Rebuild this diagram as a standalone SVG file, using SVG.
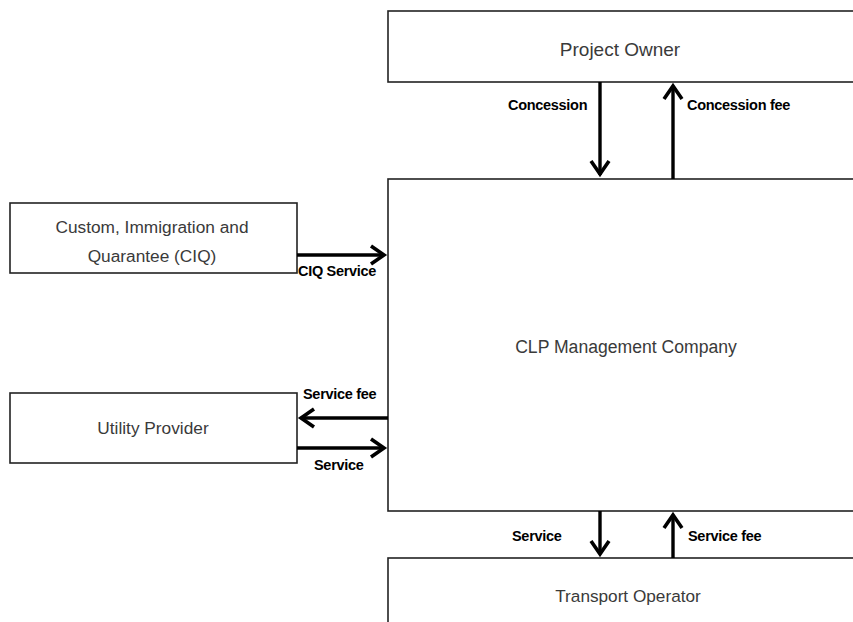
<svg xmlns="http://www.w3.org/2000/svg" width="853" height="622" viewBox="0 0 853 622">
  <style>
    .box { fill: #ffffff; stroke: #222222; stroke-width: 1.6; }
    .title { font-family: "Liberation Sans", Arial, sans-serif; fill: #3a3a3a; text-anchor: middle; }
    .lbl { font-family: "Liberation Sans", Arial, sans-serif; font-weight: bold; fill: #000000; letter-spacing: -0.3px; }
    .flow { stroke: #000000; stroke-width: 3.4; fill: none; }
    .head { stroke: #000000; stroke-width: 3.6; fill: none; stroke-linejoin: miter; }
  </style>
  <rect width="853" height="622" fill="#ffffff"/>

  <g id="project-owner">
    <rect class="box" x="388" y="11" width="480" height="71"/>
    <text class="title" x="620" y="56" font-size="19">Project Owner</text>
  </g>

  <g id="clp-management">
    <rect class="box" x="388" y="179" width="480" height="332"/>
    <text class="title" x="626" y="353" font-size="17.6">CLP Management Company</text>
  </g>

  <g id="transport-operator">
    <rect class="box" x="388" y="558" width="480" height="80"/>
    <text class="title" x="628" y="602" font-size="17.2">Transport Operator</text>
  </g>

  <g id="ciq">
    <rect class="box" x="10" y="203" width="287" height="70"/>
    <text class="title" x="152" y="233" font-size="17.3">Custom, Immigration and</text>
    <text class="title" x="152" y="262" font-size="17.3">Quarantee (CIQ)</text>
  </g>

  <g id="utility-provider">
    <rect class="box" x="10" y="393" width="287" height="70"/>
    <text class="title" x="153" y="434" font-size="17.3">Utility Provider</text>
  </g>

  <g id="connectors">
    <!-- Project Owner -> CLP : Concession -->
    <line class="flow" x1="600" y1="82" x2="600" y2="175"/>
    <polyline class="head" points="591,161 600,174 609,161"/>
    <text class="lbl" x="508" y="110" font-size="14.5">Concession</text>

    <!-- CLP -> Project Owner : Concession fee -->
    <line class="flow" x1="673" y1="179" x2="673" y2="86"/>
    <polyline class="head" points="664,99 673,86 682,99"/>
    <text class="lbl" x="687" y="110" font-size="14.5">Concession fee</text>

    <!-- CIQ -> CLP : CIQ Service -->
    <line class="flow" x1="297" y1="255" x2="384" y2="255"/>
    <polyline class="head" points="371,246 384,255 371,264"/>
    <text class="lbl" x="298" y="276" font-size="14.5">CIQ Service</text>

    <!-- CLP -> Utility : Service fee -->
    <line class="flow" x1="388" y1="418" x2="301" y2="418"/>
    <polyline class="head" points="314,409 301,418 314,427"/>
    <text class="lbl" x="303" y="399" font-size="14.5">Service fee</text>

    <!-- Utility -> CLP : Service -->
    <line class="flow" x1="297" y1="448" x2="384" y2="448"/>
    <polyline class="head" points="371,439 384,448 371,457"/>
    <text class="lbl" x="314" y="470" font-size="14.5">Service</text>

    <!-- CLP -> Transport : Service -->
    <line class="flow" x1="600" y1="511" x2="600" y2="554"/>
    <polyline class="head" points="591,541 600,554 609,541"/>
    <text class="lbl" x="512" y="541" font-size="14.5">Service</text>

    <!-- Transport -> CLP : Service fee -->
    <line class="flow" x1="673" y1="558" x2="673" y2="515"/>
    <polyline class="head" points="664,528 673,515 682,528"/>
    <text class="lbl" x="688" y="541" font-size="14.5">Service fee</text>
  </g>
</svg>
